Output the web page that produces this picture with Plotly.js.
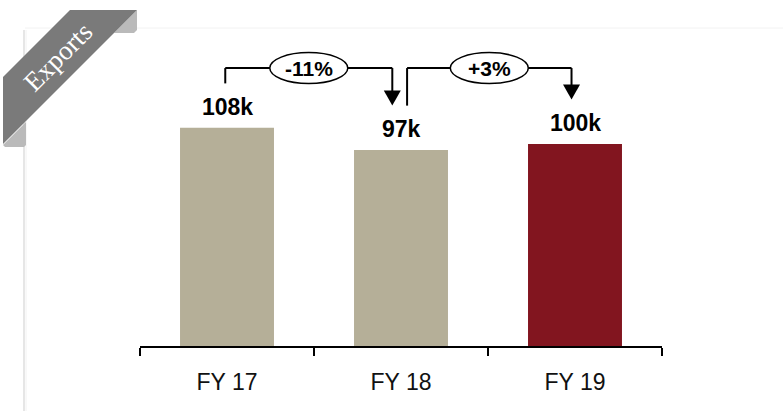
<!DOCTYPE html>
<html>
<head>
<meta charset="utf-8">
<script src="https://cdn.plot.ly/plotly-3.0.1.min.js"></script>
<style>
  html, body { margin: 0; padding: 0; background: #ffffff; }
  #chart { width: 783px; height: 411px; }
</style>
</head>
<body>
<div id="chart"></div>
<script>
// Export volumes by fiscal year (thousands)
const years = ['FY 17', 'FY 18', 'FY 19'];
const exportsK = [108, 97, 100];
const valueLabels = ['108k', '97k', '100k'];
const changeLabels = ['-11%', '+3%'];
const barColors = ['#b5af98', '#b5af98', '#82151f'];

const W = 783, H = 411;
const M = { l: 140, r: 121, t: 40, b: 65 };
const PW = W - M.l - M.r, PH = H - M.t - M.b;
// pixel -> paper fraction helpers for the decorative frame
const px = x => (x - M.l) / PW;
const py = y => 1 - (y - M.t) / PH;
const poly = pts => pts.map((p, i) => (i ? 'L' : 'M') + px(p[0]).toFixed(5) + ',' + py(p[1]).toFixed(5)).join(' ') + ' Z';

const FONT = 'Liberation Sans, Arial, sans-serif';

const trace = {
  type: 'bar',
  x: years,
  y: exportsK,
  width: 0.54,
  marker: { color: barColors, line: { width: 0 } },
  hoverinfo: 'skip'
};

const shapes = [];
const annotations = [];

// card outline with a soft left shadow
shapes.push({ type: 'line', xref: 'paper', yref: 'paper', layer: 'below',
  x0: px(24), x1: px(24), y0: py(30), y1: py(H + 5), line: { color: '#e6e6e6', width: 2 } });
shapes.push({ type: 'line', xref: 'paper', yref: 'paper', layer: 'below',
  x0: px(26), x1: px(26), y0: py(30), y1: py(H + 5), line: { color: '#f2f2f2', width: 1 } });
shapes.push({ type: 'line', xref: 'paper', yref: 'paper', layer: 'below',
  x0: px(25), x1: px(W + 5), y0: py(28), y1: py(28), line: { color: '#f2f2f2', width: 1 } });

// corner ribbon
shapes.push({ type: 'path', xref: 'paper', yref: 'paper', layer: 'above',
  path: poly([[114, 33], [137, 10], [137, 30], [134, 33]]),
  fillcolor: '#bababa', line: { width: 0 } });
shapes.push({ type: 'path', xref: 'paper', yref: 'paper', layer: 'above',
  path: poly([[3, 145], [26, 122], [26, 145], [24, 147], [5, 147]]),
  fillcolor: '#bababa', line: { width: 0 } });
shapes.push({ type: 'path', xref: 'paper', yref: 'paper', layer: 'above',
  path: poly([[70, 10], [137, 10], [3, 144], [3, 77]]),
  fillcolor: '#7a7a7a', line: { width: 0 } });
annotations.push({ xref: 'paper', yref: 'paper', x: px(58), y: py(57),
  xanchor: 'center', yanchor: 'middle', showarrow: false, textangle: -45,
  text: 'Exports', font: { family: 'Liberation Serif, Times New Roman, serif', size: 27, color: '#ffffff' } });

// value labels above bars
years.forEach((yr, i) => {
  annotations.push({ x: i, y: exportsK[i], xref: 'x', yref: 'y',
    xanchor: 'center', yanchor: 'middle', yshift: 21, showarrow: false,
    text: '<b>' + valueLabels[i] + '</b>',
    font: { family: FONT, size: 23, color: '#000000' } });
});

// year-over-year change connectors
const level = 137.6;   // height of the connector bracket (axis units)
const gap = 22;        // distance of connector ends above each bar value (axis units)
const legs = [[-0.01, 0.95], [1.035, 1.98]];
const lineStyle = { color: '#000000', width: 2 };
legs.forEach((leg, k) => {
  const [xs, xe] = leg;
  const ys = exportsK[k] + gap, ye = exportsK[k + 1] + gap;
  const mid = (xs + xe) / 2;
  shapes.push({ type: 'line', xref: 'x', yref: 'y', x0: xs, x1: xs, y0: ys, y1: level, line: lineStyle });
  shapes.push({ type: 'line', xref: 'x', yref: 'y', x0: xs, x1: xe, y0: level, y1: level, line: lineStyle });
  shapes.push({ type: 'line', xref: 'x', yref: 'y', x0: xe, x1: xe, y0: level, y1: ye + 5, line: lineStyle });
  shapes.push({ type: 'circle', xref: 'x', yref: 'y', xsizemode: 'pixel', ysizemode: 'pixel',
    xanchor: mid, yanchor: level, x0: -39, x1: 39, y0: -15.5, y1: 15.5,
    fillcolor: '#ffffff', line: { color: '#000000', width: 1.5 } });
  shapes.push({ type: 'path', xref: 'x', yref: 'y', xsizemode: 'pixel', ysizemode: 'pixel',
    xanchor: xe, yanchor: ye, path: 'M -8.5 15 L 8.5 15 L 0 0 Z',
    fillcolor: '#000000', line: { width: 0 } });
  annotations.push({ x: mid, y: level, xref: 'x', yref: 'y', showarrow: false,
    xanchor: 'center', yanchor: 'middle', text: '<b>' + changeLabels[k] + '</b>',
    font: { family: FONT, size: 21, color: '#000000' } });
});

const layout = {
  width: W, height: H,
  margin: M,
  paper_bgcolor: '#ffffff',
  plot_bgcolor: 'rgba(0,0,0,0)',
  showlegend: false,
  bargap: 0.46,
  xaxis: {
    type: 'category',
    range: [-0.5, 2.5],
    showline: true, linecolor: '#000000', linewidth: 2,
    ticks: 'outside', tickson: 'boundaries', ticklen: 8, tickwidth: 2, tickcolor: '#000000',
    ticklabelstandoff: 14,
    showgrid: false, zeroline: false,
    tickfont: { family: FONT, size: 23, color: '#111111' },
    fixedrange: true
  },
  yaxis: {
    range: [0, PH / 2.02],
    visible: false, showgrid: false, zeroline: false, fixedrange: true
  },
  shapes: shapes,
  annotations: annotations
};

Plotly.newPlot('chart', [trace], layout, { displayModeBar: false, staticPlot: true });
</script>
</body>
</html>
